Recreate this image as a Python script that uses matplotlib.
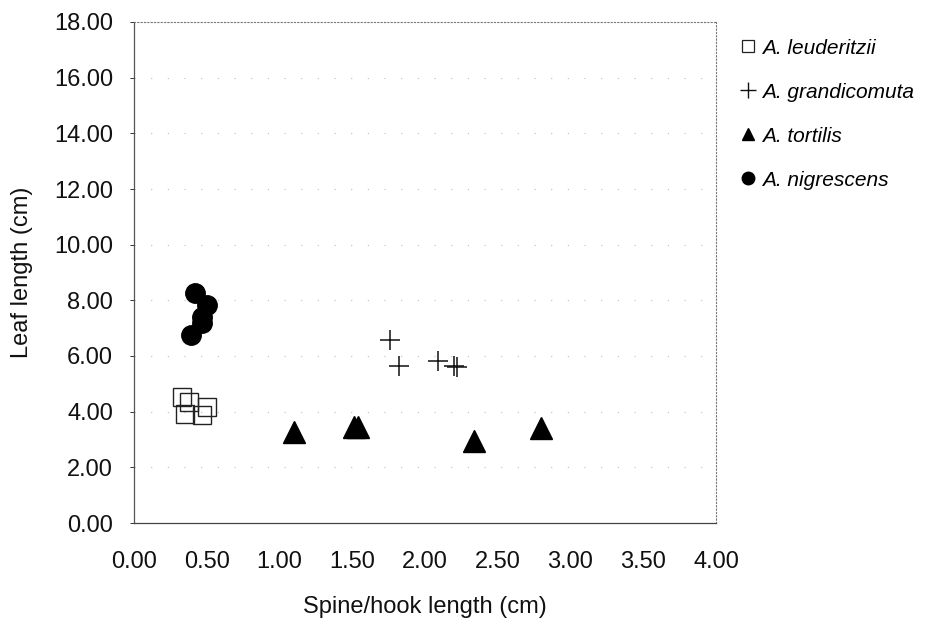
import matplotlib
matplotlib.use('Agg')
import matplotlib.pyplot as plt
from matplotlib.lines import Line2D

plt.rcParams['font.family'] = ['Liberation Sans', 'DejaVu Sans']

# ── data ─────────────────────────────────────────────────────────────
leud_x = [0.33, 0.38, 0.50, 0.35, 0.47]
leud_y = [4.53, 4.35, 4.17, 3.92, 3.88]

grand_x = [1.76, 1.82, 2.09, 2.20, 2.22]
grand_y = [6.58, 5.64, 5.82, 5.64, 5.60]

tort_x = [1.10, 1.51, 1.54, 2.34, 2.80]
tort_y = [3.27, 3.45, 3.45, 2.95, 3.41]

nigr_x = [0.42, 0.50, 0.47, 0.47, 0.39]
nigr_y = [8.26, 7.83, 7.40, 7.19, 6.76]

labels = ['A. leuderitzii', 'A. grandicomuta', 'A. tortilis', 'A. nigrescens']
x_ticks = [0, 0.5, 1.0, 1.5, 2.0, 2.5, 3.0, 3.5, 4.0]
y_ticks = [0, 2, 4, 6, 8, 10, 12, 14, 16, 18]

# ── figure ───────────────────────────────────────────────────────────
fig = plt.figure(figsize=(9.3, 6.23), dpi=100)
ax = fig.add_axes([134 / 930, 1 - 523 / 623, 582 / 930, 501 / 623])

ax.plot(leud_x, leud_y, 's', ms=13, mfc='none', mec='#222222', mew=1.0, ls='none')
ax.plot(grand_x, grand_y, '+', ms=15, mec='#111111', mew=1.1, ls='none')
ax.plot(tort_x, tort_y, '^', ms=16, color='black', ls='none')
ax.plot(nigr_x, nigr_y, 'o', ms=14, color='black', ls='none')

ax.set_xlim(0, 4)
ax.set_ylim(0, 18)
ax.set_xticks(x_ticks)
ax.set_yticks(y_ticks)
ax.set_xticklabels([f'{v:.2f}' for v in x_ticks])
ax.set_yticklabels([f'{v:.2f}' for v in y_ticks])
ax.tick_params(axis='x', length=0, pad=20, labelsize=17, colors='#111111')
ax.tick_params(axis='y', length=3, width=0.6, pad=12, labelsize=17,
               colors='#111111', direction='out')

# faint, broken gridlines like the scanned original
ax.yaxis.grid(True, color='#bbbbbb', ls=(0, (1, 14)), lw=0.8)
ax.set_axisbelow(True)

for side in ['top', 'right']:
    ax.spines[side].set_linestyle((0, (1, 2)))
    ax.spines[side].set_color('#777777')
    ax.spines[side].set_linewidth(0.8)
ax.spines['left'].set_linestyle((0, (2, 1)))
ax.spines['left'].set_color('#555555')
ax.spines['bottom'].set_color('#444444')
ax.spines['left'].set_linewidth(0.9)
ax.spines['bottom'].set_linewidth(0.9)

ax.set_xlabel('Spine/hook length (cm)', fontsize=17, labelpad=17, color='#111111')
ax.set_ylabel('Leaf length (cm)', fontsize=17, labelpad=15, color='#111111')

handles = [
    Line2D([], [], marker='s', ms=8, mfc='none', mec='#222222', mew=0.9, ls='none'),
    Line2D([], [], marker='+', ms=11, mec='#111111', mew=1.0, ls='none'),
    Line2D([], [], marker='^', ms=9, color='black', ls='none'),
    Line2D([], [], marker='o', ms=9, color='black', ls='none'),
]
leg = fig.legend(handles, labels, loc='upper left', bbox_to_anchor=(722 / 930, 1 - 20 / 623),
                 frameon=False, handlelength=0.7, handletextpad=0.3,
                 labelspacing=1.2, prop={'style': 'italic', 'size': 15})

plt.savefig('out.png', dpi=100)
